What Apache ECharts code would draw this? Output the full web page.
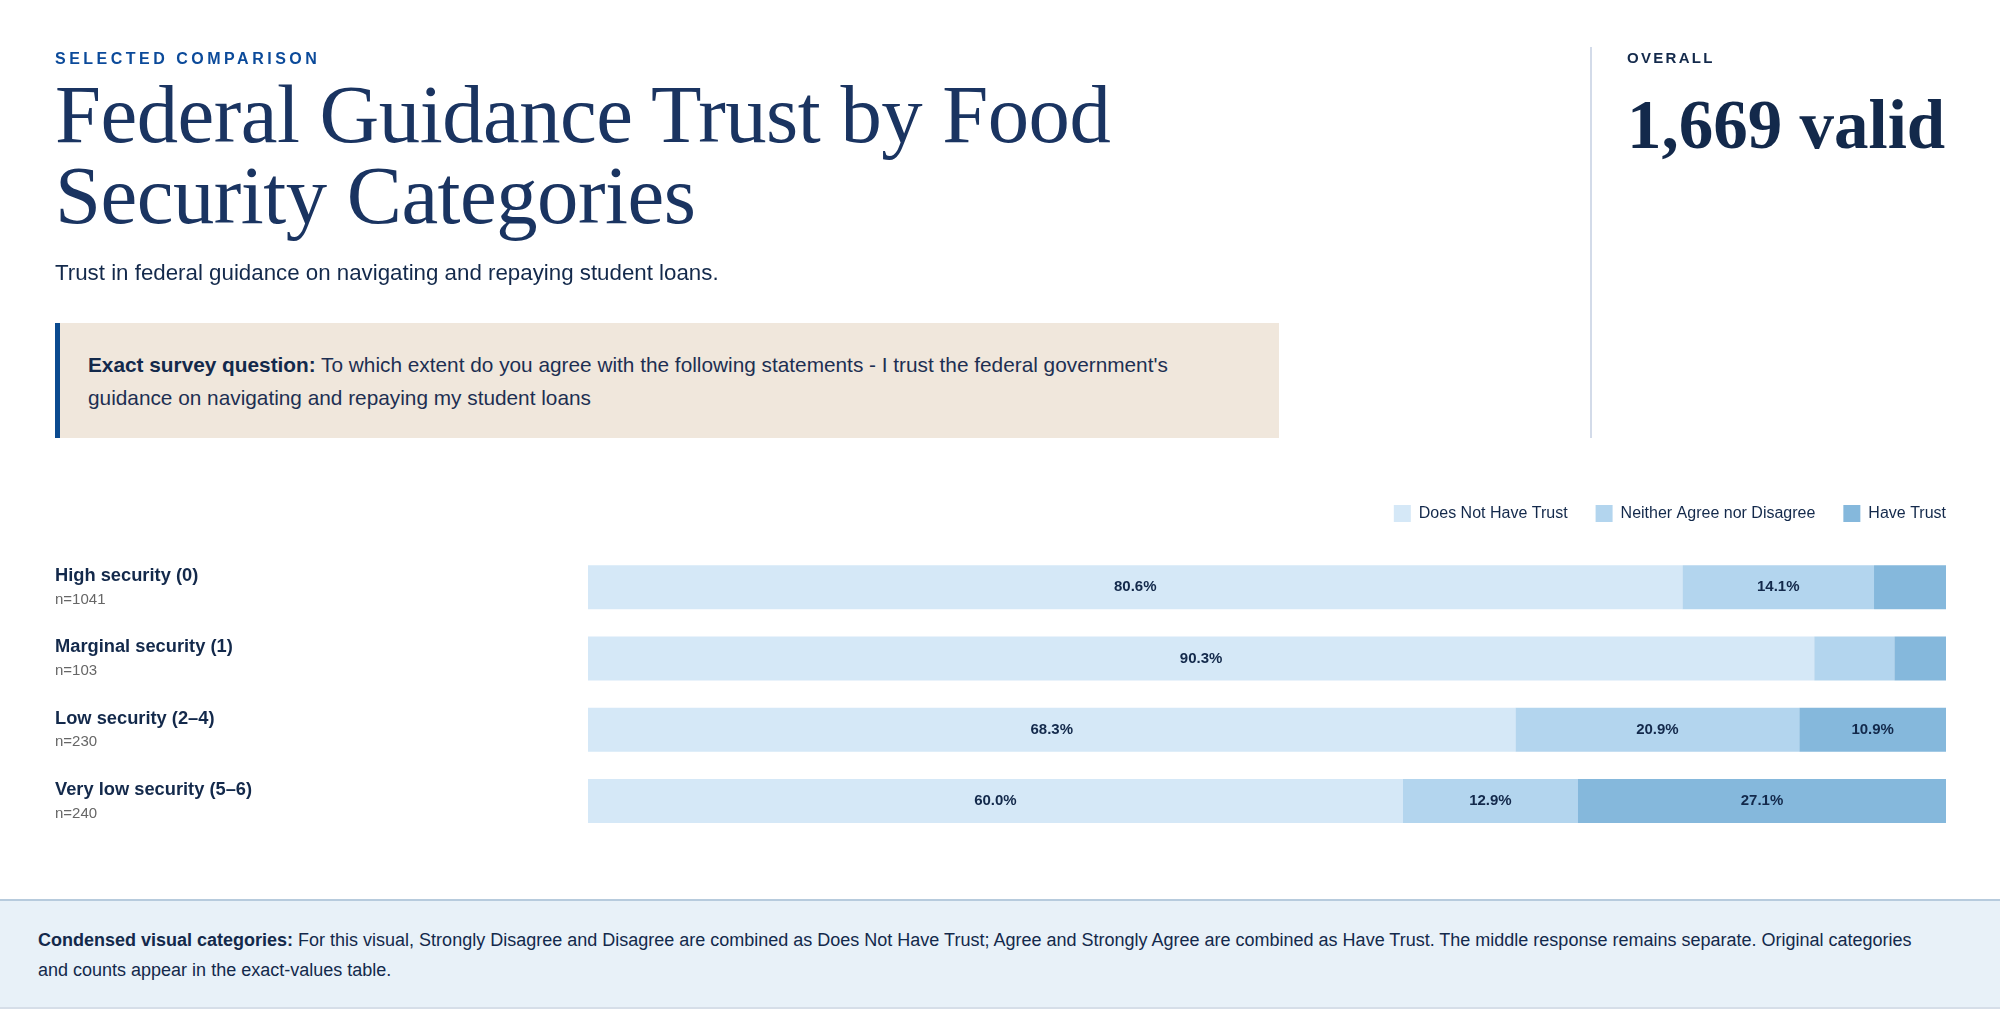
<!DOCTYPE html>
<html>
<head>
<meta charset="utf-8">
<script src="https://cdn.jsdelivr.net/npm/echarts@6/dist/echarts.min.js"></script>
<style>
  html, body { margin:0; padding:0; width:2000px; height:1022px; background:#ffffff; overflow:hidden; font-family:"Liberation Sans", Arial, sans-serif; }
  #chart { position:absolute; left:0; top:0; width:2000px; height:1022px; }
  .abs { position:absolute; pointer-events:none; }
  #kicker { left:55px; top:51px; font-size:16px; line-height:16px; font-weight:bold; letter-spacing:3.5px; color:#0b4a9a; }
  #title { left:55px; top:74px; width:1150px; font-family:"Liberation Serif", "DejaVu Serif", serif; font-size:82.7px; line-height:81px; color:#1a3461; font-weight:normal; letter-spacing:-0.5px; }
  #subtitle { left:55px; top:262px; font-size:22.3px; line-height:22px; color:#13294b; }
  #qbox { left:55px; top:323px; width:1224px; height:115px; box-sizing:border-box; background:#f0e7dc; border-left:5px solid #0b4a8f; padding:25px 80px 0 28px; font-size:20.8px; line-height:33px; color:#1d2f52; }
  #qbox b { color:#13294b; }
  #divider { left:1590px; top:47px; width:2px; height:391px; background:#d3dbe9; }
  #overall { left:1627px; top:50px; font-size:15px; line-height:15px; font-weight:bold; letter-spacing:2.3px; color:#13294b; }
  #valid { left:1627px; top:92px; font-family:"Liberation Serif", "DejaVu Serif", serif; font-size:69px; line-height:66px; font-weight:bold; color:#13294b; white-space:nowrap; }
  #footer { left:0; top:899px; width:2000px; height:110px; box-sizing:border-box; background:#e8f1f8; border-top:2px solid #b7cbdd; border-bottom:2px solid #d6dee8; padding:24px 70px 0 38px; font-size:18px; line-height:30px; color:#13294b; }
</style>
</head>
<body>
<div id="chart"></div>
<div id="kicker" class="abs">SELECTED COMPARISON</div>
<div id="title" class="abs">Federal Guidance Trust by Food Security Categories</div>
<div id="subtitle" class="abs">Trust in federal guidance on navigating and repaying student loans.</div>
<div id="qbox" class="abs"><b>Exact survey question:</b> To which extent do you agree with the following statements - I trust the federal government's guidance on navigating and repaying my student loans</div>
<div id="divider" class="abs"></div>
<div id="overall" class="abs">OVERALL</div>
<div id="valid" class="abs">1,669 valid</div>
<div id="footer" class="abs"><b>Condensed visual categories:</b> For this visual, Strongly Disagree and Disagree are combined as Does Not Have Trust; Agree and Strongly Agree are combined as Have Trust. The middle response remains separate. Original categories and counts appear in the exact-values table.</div>
<script>
const categories = ["High security (0)", "Marginal security (1)", "Low security (2\u20134)", "Very low security (5\u20136)"];
const sampleSizes = [1041, 103, 230, 240];
const seriesNames = ["Does Not Have Trust", "Neither Agree nor Disagree", "Have Trust"];
const doesNotHaveTrust = [80.6, 90.3, 68.3, 60.0];
const neitherAgreeNorDisagree = [14.1, 5.9, 20.9, 12.9];
const haveTrust = [5.3, 3.8, 10.9, 27.1];
const seriesColors = ["#d5e8f7", "#b3d5ee", "#85b8dc"];

const chart = echarts.init(document.getElementById('chart'), null, { renderer: 'canvas' });
const valuesList = [doesNotHaveTrust, neitherAgreeNorDisagree, haveTrust];
const series = seriesNames.map((name, i) => ({
  name: name,
  type: 'bar',
  stack: 'total',
  barWidth: 44,
  data: valuesList[i],
  itemStyle: { color: seriesColors[i] },
  emphasis: { disabled: true },
  label: {
    show: true,
    position: 'inside',
    color: '#13294b',
    fontWeight: 'bold',
    fontSize: 15,
    fontFamily: 'Liberation Sans',
    formatter: p => (p.value >= 8 ? p.value.toFixed(1) + '%' : '')
  }
}));

chart.setOption({
  animation: false,
  textStyle: { fontFamily: 'Liberation Sans' },
  legend: {
    data: seriesNames,
    right: 54,
    top: 505,
    padding: 0,
    itemWidth: 17,
    itemHeight: 17,
    itemGap: 28,
    icon: 'rect',
    textStyle: { fontSize: 16, color: '#13294b', padding: [0, 0, 0, 3] }
  },
  grid: { left: 588, right: 54, top: 551.5, height: 285, containLabel: false },
  xAxis: { type: 'value', min: 0, max: 100, show: false },
  yAxis: {
    type: 'category',
    data: categories,
    inverse: true,
    axisLine: { show: false },
    axisTick: { show: false },
    axisLabel: {
      align: 'left',
      margin: 533,
      formatter: (v, idx) => '{a|' + v + '}\n{b|n=' + sampleSizes[idx] + '}',
      rich: {
        a: { fontSize: 18.3, fontWeight: 'bold', color: '#13294b', lineHeight: 25, fontFamily: 'Liberation Sans', padding: [3, 0, 0, 0] },
        b: { fontSize: 15, color: '#666666', lineHeight: 25, fontFamily: 'Liberation Sans' }
      }
    }
  },
  series: series
});
</script>
</body>
</html>
